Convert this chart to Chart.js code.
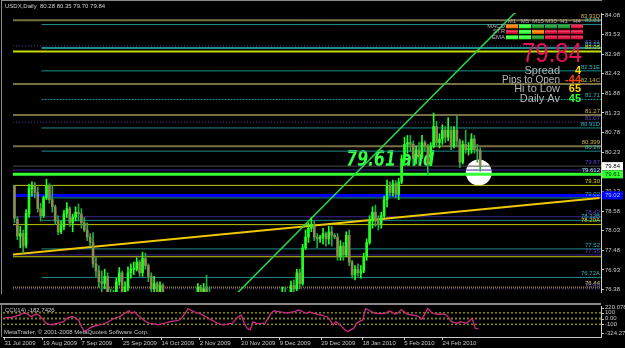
<!DOCTYPE html>
<html>
<head>
<meta charset="utf-8">
<script src="https://cdn.jsdelivr.net/npm/chart.js@4.4.0/dist/chart.umd.min.js"></script>
<style>
  html, body { margin: 0; padding: 0; background: #000; }
  #wrap { position: relative; width: 625px; height: 348px; background: #000; overflow: hidden; }
  #priceChart { position: absolute; left: 0; top: 0; }
  #cciChart { position: absolute; left: 0; top: 303px; }
</style>
</head>
<body>
<div id="wrap">
  <canvas id="priceChart" width="625" height="305"></canvas>
  <canvas id="cciChart" width="625" height="45"></canvas>
</div>
<script>
// USDX daily bars, 31 Jul 2009 .. 12 Mar 2010 (bar index = x)
const opens = [
  79.28, 78.35, 77.88, 77.95, 77.62, 78.50, 79.20, 79.30, 79.10, 78.65,
  78.45, 78.95, 79.28, 78.90, 78.70, 78.30, 78.00, 78.15, 78.50, 78.65,
  78.25, 78.40, 78.55, 78.50, 78.25, 78.05, 77.85, 77.70, 77.10, 76.90,
  76.60, 76.55, 76.75, 76.25, 76.10, 76.15, 76.60, 76.85, 76.15, 76.45,
  76.85, 76.95, 76.95, 77.15, 76.85, 77.25, 77.05, 76.75, 76.40, 76.55,
  76.05, 76.50, 76.20, 75.80, 75.50, 75.40, 75.70, 75.45, 75.80, 75.25,
  75.40, 75.35, 76.00, 76.05, 76.45, 76.00, 76.40, 76.25, 75.95, 75.55,
  75.85, 75.60, 75.20, 75.35, 75.05, 75.50, 75.35, 75.05, 75.35, 75.05,
  75.50, 75.60, 75.20, 75.25, 74.60, 74.80, 75.10, 74.65, 74.50, 74.70,
  74.80, 75.80, 75.70, 76.30, 76.15, 76.00, 76.50, 76.40, 76.85, 76.55,
  77.55, 77.85, 78.10, 78.20, 77.85, 77.80, 77.85, 77.95, 77.80, 78.00,
  77.90, 77.85, 77.30, 77.60, 77.35, 77.90, 77.15, 76.80, 76.95, 76.85,
  76.90, 77.30, 77.70, 78.30, 78.55, 78.30, 78.20, 78.45, 78.90, 79.30,
  79.10, 79.35, 79.05, 79.40, 80.05, 80.45, 80.50, 80.45, 80.05, 80.30,
  80.10, 80.50, 80.40, 79.90, 80.40, 80.95, 80.50, 80.60, 80.85, 80.65,
  80.85, 80.40, 80.85, 80.55, 79.95, 80.45, 80.30, 80.30, 80.60, 80.30,
  80.28
];
const highs = [
  79.30, 78.42, 78.15, 78.05, 78.62, 79.34, 79.40, 79.38, 79.25, 78.80,
  79.00, 79.47, 79.35, 79.30, 78.75, 78.45, 78.30, 78.60, 78.82, 78.70,
  78.50, 78.70, 78.78, 78.65, 78.40, 78.25, 77.95, 77.98, 77.30, 77.05,
  76.90, 76.95, 76.85, 76.40, 76.35, 76.70, 77.00, 76.90, 76.60, 77.02,
  77.10, 77.15, 77.27, 77.20, 77.43, 77.40, 77.10, 76.85, 76.75, 76.60,
  76.60, 76.55, 76.25, 75.85, 75.60, 75.85, 75.80, 75.90, 75.85, 75.60,
  75.55, 76.10, 76.20, 76.55, 76.50, 76.55, 76.78, 76.45, 76.05, 75.95,
  76.00, 75.65, 75.45, 75.40, 75.60, 75.65, 75.40, 75.45, 75.40, 75.60,
  75.75, 75.65, 75.40, 75.30, 74.90, 75.40, 75.15, 74.80, 74.85, 74.95,
  75.95, 76.05, 76.45, 76.45, 76.30, 76.62, 76.65, 76.95, 76.95, 77.65,
  78.05, 78.25, 78.40, 78.30, 77.95, 77.90, 78.10, 78.00, 78.15, 78.15,
  77.95, 77.95, 77.75, 77.70, 78.00, 78.05, 77.20, 77.05, 77.10, 77.05,
  77.40, 77.80, 78.45, 78.70, 78.75, 78.45, 78.55, 79.00, 79.45, 79.40,
  79.45, 79.43, 79.50, 80.15, 80.65, 80.70, 80.70, 80.55, 80.40, 80.50,
  80.70, 80.55, 80.45, 80.50, 81.33, 81.10, 80.75, 81.00, 80.95, 81.20,
  80.95, 80.95, 81.25, 80.60, 80.55, 80.85, 80.50, 80.75, 80.70, 80.45,
  80.35
];
const lows = [
  78.25, 77.78, 77.55, 77.40, 77.55, 78.40, 79.00, 78.95, 78.55, 78.30,
  78.40, 78.90, 78.80, 78.55, 78.20, 77.92, 77.95, 78.05, 78.40, 78.15,
  78.00, 78.30, 78.30, 78.10, 78.00, 77.75, 77.60, 77.00, 76.75, 76.45,
  76.30, 76.40, 76.10, 76.00, 75.95, 76.05, 76.50, 76.05, 75.90, 76.35,
  76.70, 76.80, 76.90, 76.75, 76.75, 76.95, 76.60, 76.25, 76.30, 75.95,
  76.00, 76.10, 75.70, 75.40, 75.20, 75.35, 75.30, 75.40, 75.20, 75.10,
  75.20, 75.30, 75.80, 76.00, 75.90, 75.85, 76.05, 75.85, 75.40, 75.50,
  75.45, 75.05, 75.05, 74.90, 75.00, 75.25, 74.90, 75.00, 74.95, 75.00,
  75.35, 75.10, 75.05, 74.50, 74.25, 74.60, 74.55, 74.30, 74.30, 74.45,
  74.70, 75.55, 75.60, 75.95, 75.85, 75.95, 76.20, 76.35, 76.40, 76.50,
  77.50, 77.70, 78.00, 77.75, 77.55, 77.70, 77.65, 77.60, 77.65, 77.60,
  77.80, 77.20, 77.20, 77.20, 77.30, 77.05, 76.70, 76.65, 76.75, 76.70,
  76.85, 77.20, 77.65, 78.10, 78.15, 78.05, 78.10, 78.40, 78.70, 79.00,
  79.00, 78.95, 78.90, 79.35, 79.95, 80.20, 80.25, 79.90, 79.90, 79.95,
  80.05, 80.25, 79.60, 79.85, 80.35, 80.40, 80.35, 80.45, 80.50, 80.55,
  80.30, 80.35, 80.40, 79.80, 79.90, 80.20, 80.15, 80.20, 80.20, 79.95,
  79.70
];
const closes = [
  78.38, 77.88, 77.95, 77.60, 78.52, 79.22, 79.30, 79.10, 78.65, 78.45,
  78.95, 79.28, 78.90, 78.70, 78.30, 78.00, 78.15, 78.50, 78.65, 78.25,
  78.40, 78.55, 78.50, 78.25, 78.05, 77.85, 77.70, 77.10, 76.90, 76.60,
  76.55, 76.75, 76.25, 76.10, 76.15, 76.60, 76.85, 76.15, 76.45, 76.85,
  76.95, 76.95, 77.15, 76.85, 77.25, 77.05, 76.75, 76.40, 76.55, 76.05,
  76.50, 76.20, 75.80, 75.50, 75.40, 75.70, 75.45, 75.80, 75.25, 75.40,
  75.35, 76.00, 76.05, 76.45, 76.00, 76.40, 76.25, 75.95, 75.55, 75.85,
  75.60, 75.20, 75.35, 75.05, 75.50, 75.35, 75.05, 75.35, 75.05, 75.50,
  75.60, 75.20, 75.25, 74.60, 74.80, 75.10, 74.65, 74.50, 74.70, 74.80,
  75.80, 75.70, 76.30, 76.15, 76.00, 76.50, 76.40, 76.85, 76.55, 77.55,
  77.85, 78.10, 78.20, 77.85, 77.80, 77.85, 77.95, 77.80, 78.00, 77.90,
  77.85, 77.30, 77.60, 77.35, 77.90, 77.15, 76.80, 76.95, 76.85, 76.90,
  77.30, 77.70, 78.30, 78.55, 78.30, 78.20, 78.45, 78.90, 79.30, 79.10,
  79.35, 79.05, 79.40, 80.05, 80.45, 80.50, 80.45, 80.05, 80.30, 80.10,
  80.50, 80.40, 79.90, 80.40, 80.95, 80.50, 80.60, 80.85, 80.65, 80.85,
  80.40, 80.85, 80.55, 79.95, 80.45, 80.30, 80.30, 80.60, 80.30, 80.28,
  79.84
];

// CCI(14)
const cciValues = [
  5, 20, 15, 30, 45, 60, 85, 100, 70, 32,
  60, 78, 40, -14, -83, -100, -112, -95, -83, -70,
  -55, 3, 25, 32, 10, -26, -141, -227, -198, -160,
  -141, -125, -112, -100, -83, -60, -26, 0, 20, 32,
  70, 100, 135, 89, 118, 60, 20, -26, -60, -83,
  -90, -100, -112, -95, -83, -70, -55, -45, -40, -26,
  20, 89, 175, 147, 120, 100, 89, 60, 32, 0,
  -26, -55, -83, -100, -112, -105, -90, -83, -20, 32,
  60, -83, -170, -198, -55, -83, -90, -83, -83, 3,
  89, 135, 125, 118, 110, 100, 105, 112, 120, 147,
  140, 110, 95, 117, 100, 85, 70, 60, 45, 32,
  -26, -112, -55, -100, -141, -200, -227, -195, -170, -83,
  -50, -26, 175, 150, 118, 95, 89, 85, 89, 100,
  135, 110, 78, 100, 159, 120, 78, 70, 60, 50,
  32, -14, 80, 176, 120, 89, 78, 80, 78, 70,
  20, -55, -70, -83, -55, -70, -83, -40, 3, -170,
  -182.7426
];

// axis ticks
const priceTicks = [84.08, 83.53, 82.98, 82.43, 81.88, 81.33, 80.78, 80.23, 79.68, 79.13, 78.58, 78.03, 77.48, 76.93, 76.38];
const dateTickIdx = [0, 13, 26, 40, 53, 66, 80, 93, 107, 121, 135, 148];
const dateTickLabels = ['31 Jul 2009', '19 Aug 2009', '7 Sep 2009', '25 Sep 2009', '14 Oct 2009', '2 Nov 2009',
  '20 Nov 2009', '9 Dec 2009', '29 Dec 2009', '18 Jan 2010', '5 Feb 2010', '24 Feb 2010'];
const cciAxisVals = [220.0785, 100, 0, -100, -324.2772];
const cciAxisTexts = ['220.0785', '100', '0.00', '-100', '-324.2772'];

// horizontal level objects
const levelPrices = [83.93, 83.81, 83.21, 83.15, 83.05, 82.51, 82.14, 81.71, 81.27, 81.07, 80.91, 80.399, 80.26,
  79.84, 79.73, 79.61, 79.30, 79.02, 78.95, 78.42, 78.32, 78.20, 77.52, 77.35, 77.30, 76.72, 76.44, 76.40];
const levelTexts = ['83.93D', '83.81', '83.21', '83.15', '83.05', '82.51E', '82.14C', '81.71', '81.27', '81.07', '80.91D', '80.399', '80.26',
  '79.87', '', '79.612', '79.30', '', '79.02', '78.42', '78.32B', '78.20A', '77.52', '77.35', '', '76.72A', '76.44', '76.40'];
const levelKinds = ['olive', 'teal', 'purpleDot', 'teal2', 'yellowGreen', 'teal', 'olive', 'tealDot', 'olive', 'purpleDot', 'teal', 'olive', 'teal',
  'bid', 'purple', 'green', 'yellow', 'blue', 'teal', 'purple', 'teal', 'yellow', 'teal', 'purple', 'yellow', 'teal', 'oliveDot', 'purpleDot'];

// trend lines (bar index, price)
const greenTrendIdx = [60, 180];
const greenTrendPrice = [74.92, 84.80];
const yellowTrendIdx = [-1, 201];
const yellowTrendPrice = [77.36, 78.95];

// marker and note
const circleIdx = 159.5, circlePrice = 79.66;
const noteText = '79.61 and', noteIdx = 114, notePrice = 79.85;

// axis price boxes
const boxPrices = [79.84, 79.61, 79.02];
const boxBg = ['#ffffff', '#33ff33', '#0000ff'];
const boxFg = ['#000000', '#003300', '#9fd0ff'];

// signal panel
const tfNames = ['M1', 'M5', 'M15', 'M30', 'H1', 'H4'];
const sigRows = ['MACD', 'STR', 'EMA'];
const sigStates = [
  ['o', 'L', 'g', 'g', 'g', 'r'],
  ['r', 'L', 'o', 'r', 'r', 'r'],
  ['L', 'L', 'g', 'r', 'r', 'r']
];
const statLabels = ['Spread', 'Pips to Open', 'Hi to Low', 'Daily Av'];
const statValues = ['4', '-44', '65', '45'];

const titleText = 'USDX,Daily  80.28 80.35 79.70 79.84';
const lastPrice = '79.84';

const X_MIN = -0.5, X_MAX = 201.5;
const FONT = '"Liberation Sans", Arial, sans-serif';

const levelStyles = {
  olive:       { color: '#7a7046', width: 2, dash: [], from: X_MIN, text: '#c8b84a' },
  oliveDot:    { color: '#8a7a36', width: 2, dash: [1, 1], from: X_MIN, text: '#e8d840' },
  teal:        { color: '#1f8a8a', width: 1, dash: [], from: 9.3, text: '#2fb8b8' },
  teal2:       { color: '#1f8a8a', width: 2, dash: [], from: 9.3, text: '#2fb8b8' },
  tealDot:     { color: '#1f9a9a', width: 1, dash: [2, 1], from: 9.3, text: '#2fb8b8' },
  purple:      { color: '#3f2896', width: 1, dash: [], from: X_MIN, text: '#5a40c8' },
  purpleDot:   { color: '#4a30a8', width: 1, dash: [1, 2], from: X_MIN, text: '#5a40c8' },
  yellow:      { color: '#c8c800', width: 1, dash: [], from: X_MIN, text: '#d8d800' },
  yellowGreen: { color: '#c4dc00', width: 2, dash: [], from: X_MIN, text: '#d8e800' },
  green:       { color: '#33ff33', width: 3, dash: [], from: X_MIN, text: '#9fe8e0' },
  blue:        { color: '#0000ff', width: 3, dash: [], from: X_MIN, text: '#2fb8b8' },
  bid:         { color: '#4a4a4a', width: 1, dash: [], from: X_MIN, text: '#5a40c8' }
};
const sigColors = { o: '#ff7a00', L: '#33ff33', g: '#1c9a2c', r: '#e0103c' };
const statColors = ['#ffd700', '#ff4500', '#ffd700', '#32ff32'];

const upCol = '#22ff22', downWick = '#1fae48', downBody = '#8c8c52';

function isUp(i) { return closes[i] >= opens[i]; }

const wickData = highs.map((h, i) => ({ x: i, y: [lows[i], h] }));
const bodyData = opens.map((o, i) => ({ x: i, y: [Math.min(o, closes[i]), Math.max(o, closes[i])] }));

const levelDatasets = levelPrices.map((p, k) => {
  const st = levelStyles[levelKinds[k]];
  return {
    type: 'line',
    data: [{ x: st.from, y: p }, { x: X_MAX, y: p }],
    borderColor: st.color,
    borderWidth: st.width,
    borderDash: st.dash,
    pointRadius: 0,
    order: 20
  };
});

const priceCtx = document.getElementById('priceChart').getContext('2d');

const mtOverlay = {
  id: 'mtOverlay',
  beforeDatasetsDraw(chart) {
    const { ctx, scales: { x, y } } = chart;
    ctx.save();
    ctx.font = 'bold italic 21px "DejaVu Sans", sans-serif';
    ctx.fillStyle = '#33ff44';
    ctx.textAlign = 'left';
    ctx.textBaseline = 'alphabetic';
    ctx.fillText(noteText, x.getPixelForValue(noteIdx), y.getPixelForValue(notePrice), 88);
    ctx.restore();
  },
  afterDatasetsDraw(chart) {
    const { ctx, chartArea: a, scales: { y } } = chart;
    ctx.save();
    // level labels
    ctx.font = '6px ' + FONT;
    ctx.textAlign = 'right';
    ctx.textBaseline = 'bottom';
    levelPrices.forEach((p, k) => {
      if (!levelTexts[k]) return;
      ctx.fillStyle = levelStyles[levelKinds[k]].text;
      ctx.fillText(levelTexts[k], a.right - 1, y.getPixelForValue(p) - 1);
    });

    // frame
    ctx.fillStyle = '#8a8a8a';
    ctx.fillRect(1, 0, 1, a.bottom + 2);
    ctx.fillRect(1, 0, a.right, 1);

    // title
    ctx.font = '6px ' + FONT;
    ctx.fillStyle = '#d0d0d0';
    ctx.textAlign = 'left';
    ctx.textBaseline = 'middle';
    ctx.fillText(titleText, 5, 6);

    // signal panel
    const c0 = a.right - 89;
    ctx.textAlign = 'center';
    ctx.fillStyle = '#b0b0b0';
    tfNames.forEach((n, k) => ctx.fillText(n, c0 + k * 13, 21));
    sigRows.forEach((rowName, r) => {
      const ry = 26.3 + r * 5.5;
      ctx.textAlign = 'right';
      ctx.fillStyle = '#b0b0b0';
      ctx.fillText(rowName, c0 - 7, ry);
      sigStates[r].forEach((s, k) => {
        ctx.fillStyle = sigColors[s];
        ctx.fillRect(c0 + k * 13 - 6, ry - 2, 12, 4);
        ctx.fillStyle = 'rgba(255,255,255,0.25)';
        ctx.fillRect(c0 + k * 13 - 6, ry - 1, 12, 1);
      });
    });

    // last price
    ctx.font = '28px ' + FONT;
    ctx.fillStyle = '#e8105a';
    ctx.textAlign = 'right';
    ctx.textBaseline = 'alphabetic';
    ctx.fillText(lastPrice, a.right - 19, 62, 60);

    // stats
    statLabels.forEach((t, k) => {
      const by = 74 + k * 9.2;
      ctx.font = '11px ' + FONT;
      ctx.fillStyle = '#b4b4b4';
      ctx.fillText(t, a.right - 41, by, 58);
      ctx.font = 'bold 11px ' + FONT;
      ctx.fillStyle = statColors[k];
      ctx.fillText(statValues[k], a.right - 20, by);
    });

    // axis boxes
    ctx.font = '6px ' + FONT;
    ctx.textAlign = 'left';
    ctx.textBaseline = 'middle';
    boxPrices.forEach((p, k) => {
      const py = y.getPixelForValue(p);
      ctx.fillStyle = boxBg[k];
      ctx.fillRect(a.right + 1, py - 4, 21, 8);
      ctx.fillStyle = boxFg[k];
      ctx.fillText(p.toFixed(2), a.right + 4, py);
    });
    ctx.restore();
  }
};

new Chart(priceCtx, {
  type: 'bar',
  data: {
    datasets: [
      {
        type: 'bar',
        data: bodyData,
        backgroundColor: opens.map((o, i) => isUp(i) ? upCol : downBody),
        barThickness: 2,
        minBarLength: 1,
        grouped: false,
        order: 0
      },
      {
        type: 'bar',
        data: wickData,
        backgroundColor: opens.map((o, i) => isUp(i) ? upCol : downWick),
        barThickness: 1,
        grouped: false,
        order: 1
      },
      {
        type: 'line',
        data: greenTrendIdx.map((v, i) => ({ x: v, y: greenTrendPrice[i] })),
        borderColor: '#2bd84a',
        borderWidth: 1.5,
        pointRadius: 0,
        order: 10
      },
      {
        type: 'line',
        data: yellowTrendIdx.map((v, i) => ({ x: v, y: yellowTrendPrice[i] })),
        borderColor: '#f0c800',
        borderWidth: 2,
        pointRadius: 0,
        order: 10
      },
      ...levelDatasets,
      {
        type: 'bubble',
        data: [{ x: circleIdx, y: circlePrice, r: 13 }],
        backgroundColor: '#ffffff',
        borderWidth: 0,
        order: 40
      }
    ]
  },
  options: {
    responsive: false,
    animation: false,
    events: [],
    layout: { padding: { left: 3, top: 2, right: 0, bottom: 2 } },
    plugins: { legend: { display: false }, tooltip: { enabled: false } },
    scales: {
      x: {
        type: 'linear',
        min: X_MIN,
        max: X_MAX,
        offset: false,
        display: false
      },
      y: {
        position: 'right',
        min: 76.312,
        max: 84.132,
        afterBuildTicks: scale => { scale.ticks = priceTicks.map(v => ({ value: v })); },
        afterFit: scale => { scale.width = 24; },
        border: { display: true, color: '#d0d0d0', width: 1 },
        grid: { drawOnChartArea: false, color: '#d0d0d0', tickLength: 3 },
        ticks: {
          autoSkip: false,
          padding: 1,
          color: '#c8c8c8',
          font: { family: FONT, size: 6 },
          callback: v => v.toFixed(2)
        }
      }
    }
  },
  plugins: [mtOverlay]
});

const cciOverlay = {
  id: 'cciOverlay',
  afterDatasetsDraw(chart) {
    const { ctx, chartArea: a, scales: { y } } = chart;
    ctx.save();
    ctx.fillStyle = '#8a8a8a';
    ctx.fillRect(0, 0, a.right, 2);
    ctx.fillRect(1, 0, 1, a.bottom);
    ctx.font = '6px ' + FONT;
    ctx.fillStyle = '#c8c8c8';
    ctx.textAlign = 'left';
    ctx.textBaseline = 'middle';
    ctx.fillText('CCI(14) -182.7426', 5, 7.7);
    ctx.fillText('MetaTrader, \u00a9 2001-2008 MetaQuotes Software Corp.', 4, 29.7);
    cciAxisVals.forEach((v, k) => {
      let py = y.getPixelForValue(v);
      py = Math.min(Math.max(py, a.top + 1.5), a.bottom - 4);
      ctx.fillText(cciAxisTexts[k], a.right + 4, py);
      ctx.fillRect(a.right, Math.round(py), 3, 1);
    });
    ctx.restore();
  }
};

const cciLevel = (v, color, width) => ({
  type: 'line',
  data: [{ x: X_MIN, y: v }, { x: X_MAX, y: v }],
  borderColor: color,
  borderWidth: width,
  borderDash: [2, 2],
  pointRadius: 0,
  order: 5
});

new Chart(document.getElementById('cciChart').getContext('2d'), {
  type: 'line',
  data: {
    datasets: [
      {
        data: cciValues.map((v, i) => ({ x: i, y: v })),
        borderColor: '#ee2070',
        borderWidth: 1.2,
        pointRadius: 0,
        order: 1
      },
      {
        data: cciValues.map((v, i) => ({ x: i, y: v })),
        borderColor: '#6a50e0',
        borderWidth: 1,
        borderDash: [1, 2],
        pointRadius: 0,
        order: 0
      },
      cciLevel(100, '#c8c800', 1),
      cciLevel(0, '#7a7a20', 2),
      cciLevel(-100, '#c8c800', 1)
    ]
  },
  options: {
    responsive: false,
    animation: false,
    events: [],
    layout: { padding: { left: 3, top: 3, right: 0, bottom: 0 } },
    plugins: { legend: { display: false }, tooltip: { enabled: false } },
    scales: {
      x: {
        type: 'linear',
        min: X_MIN,
        max: X_MAX,
        offset: false,
        afterBuildTicks: scale => { scale.ticks = dateTickIdx.map(v => ({ value: v })); },
        afterFit: scale => { scale.height = 11; },
        border: { display: true, color: '#c8c8c8', width: 1 },
        grid: { drawOnChartArea: false, color: '#c8c8c8', tickLength: 3 },
        ticks: {
          autoSkip: false,
          maxRotation: 0,
          align: 'start',
          padding: 0,
          color: '#c8c8c8',
          font: { family: FONT, size: 6 },
          callback: (v, i) => dateTickLabels[i]
        }
      },
      y: {
        position: 'right',
        min: -324.2772,
        max: 220.0785,
        afterFit: scale => { scale.width = 24; },
        border: { display: true, color: '#d0d0d0', width: 1 },
        grid: { display: false },
        ticks: { display: false }
      }
    }
  },
  plugins: [cciOverlay]
});
</script>
</body>
</html>
